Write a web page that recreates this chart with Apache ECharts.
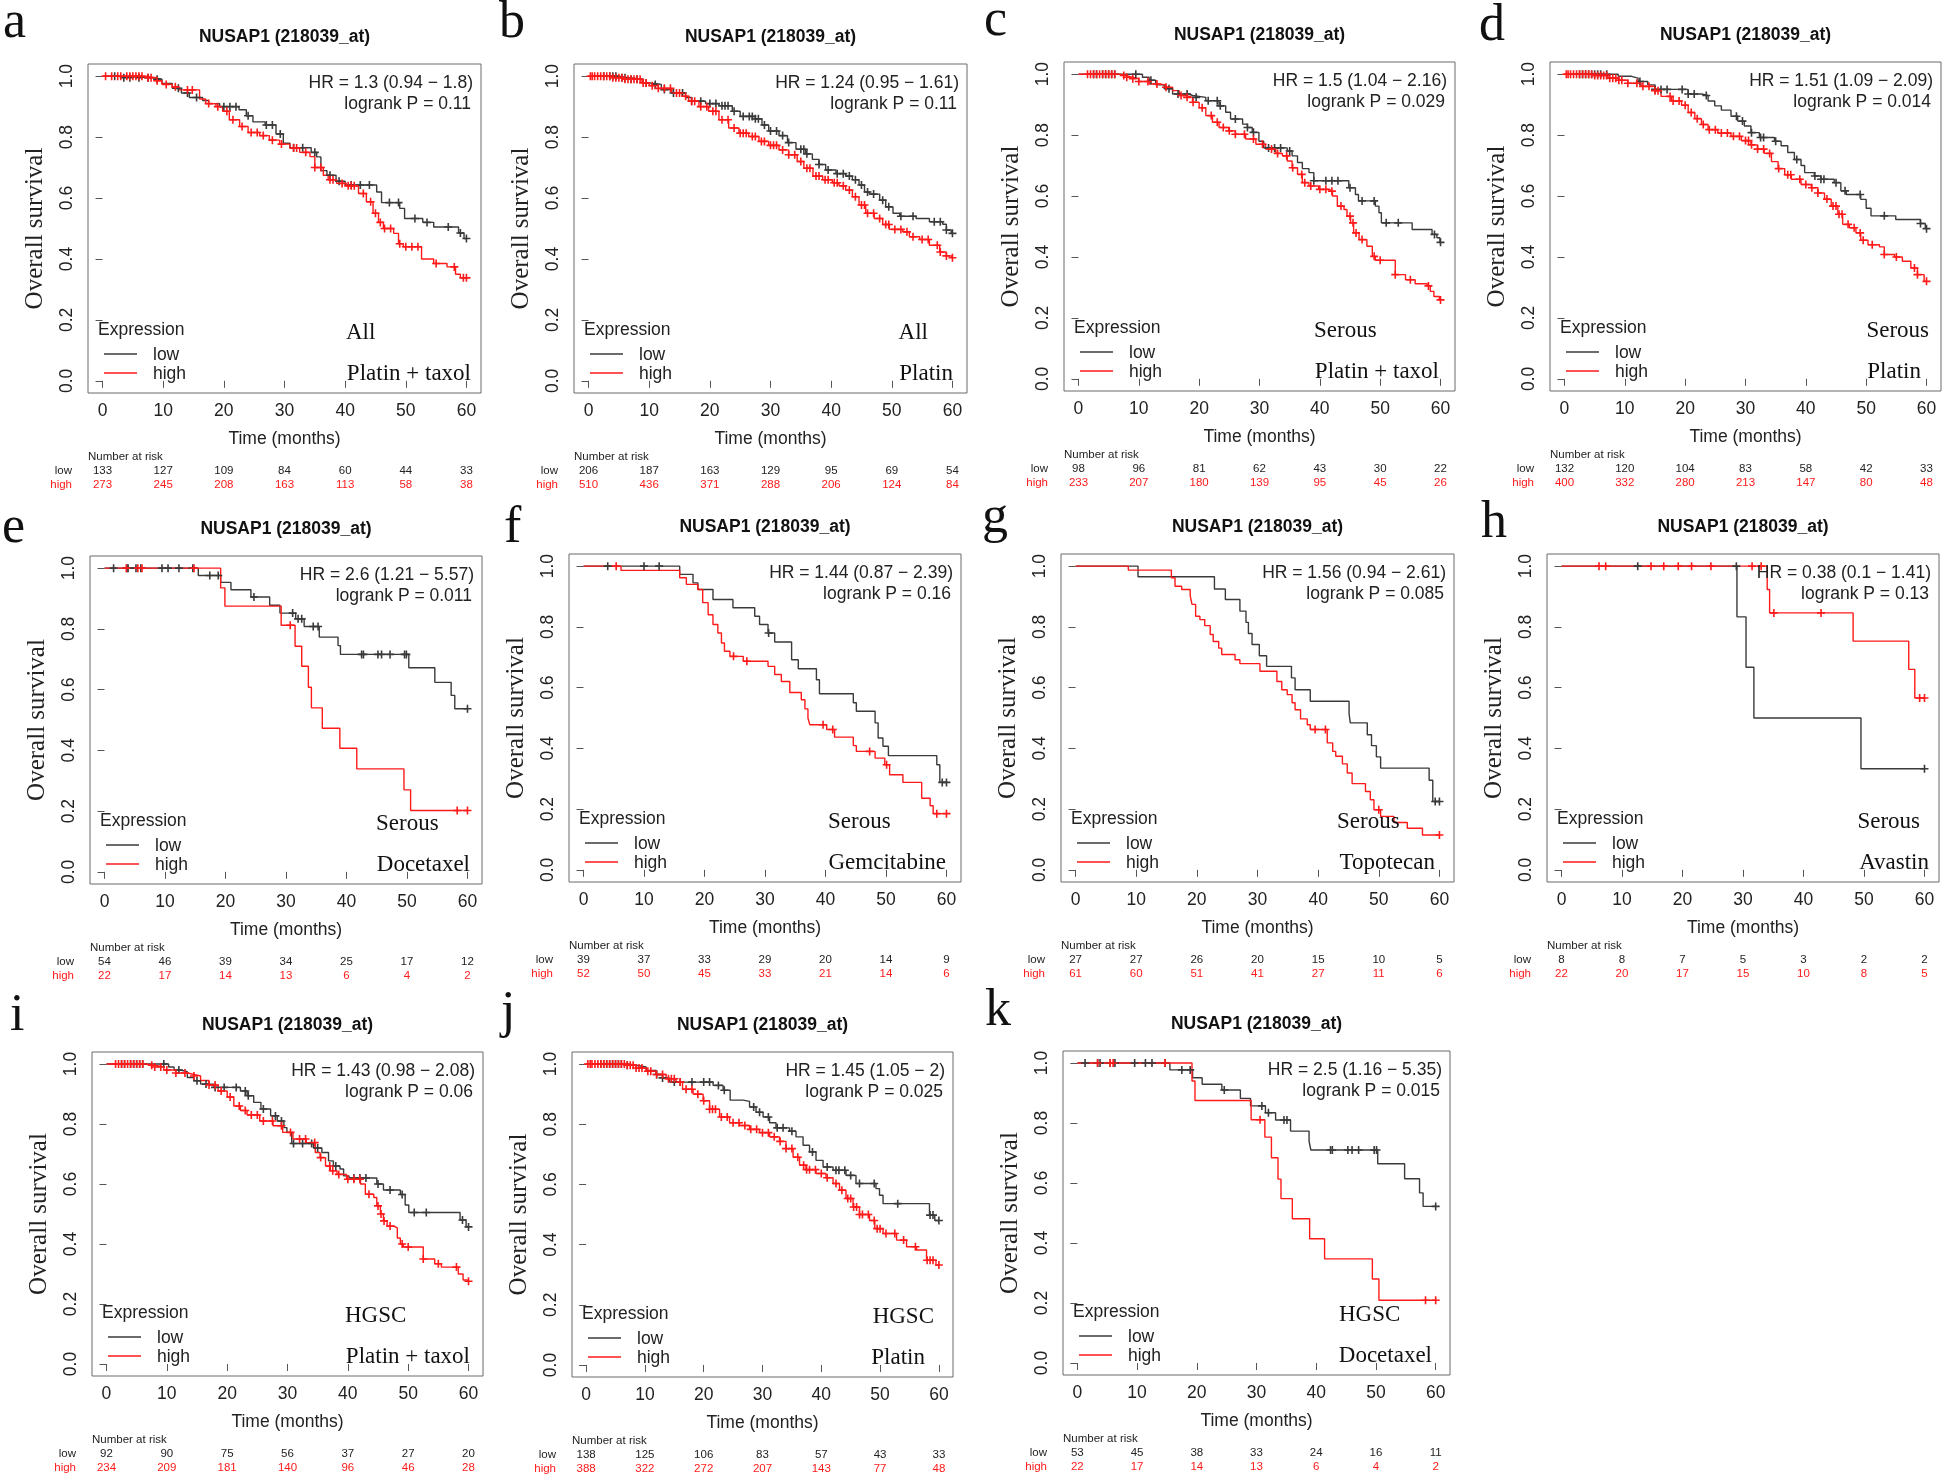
<!DOCTYPE html>
<html><head><meta charset="utf-8">
<script src="https://cdn.jsdelivr.net/npm/echarts@6/dist/echarts.min.js"></script>
<style>html,body{margin:0;padding:0;background:#fff}#c{width:1944px;height:1477px}</style>
</head><body><div id="c"></div>
<script>
// ---------------- DATA ----------------
const TICKS_X = [0,10,20,30,40,50,60];
const TICKS_Y = [0,0.2,0.4,0.6,0.8,1];
const TITLE = 'NUSAP1 (218039_at)';
const panelIds = ['a','b','c','d','e','f','g','h','i','j','k'];
const hrTexts = ['HR = 1.3 (0.94 − 1.8)','HR = 1.24 (0.95 − 1.61)','HR = 1.5 (1.04 − 2.16)','HR = 1.51 (1.09 − 2.09)','HR = 2.6 (1.21 − 5.57)','HR = 1.44 (0.87 − 2.39)','HR = 1.56 (0.94 − 2.61)','HR = 0.38 (0.1 − 1.41)','HR = 1.43 (0.98 − 2.08)','HR = 1.45 (1.05 − 2)','HR = 2.5 (1.16 − 5.35)'];
const pTexts = ['logrank P = 0.11','logrank P = 0.11','logrank P = 0.029','logrank P = 0.014','logrank P = 0.011','logrank P = 0.16','logrank P = 0.085','logrank P = 0.13','logrank P = 0.06','logrank P = 0.025','logrank P = 0.015'];
const subtypes = ['All','All','Serous','Serous','Serous','Serous','Serous','Serous','HGSC','HGSC','HGSC'];
const drugs = ['Platin + taxol','Platin','Platin + taxol','Platin','Docetaxel','Gemcitabine','Topotecan','Avastin','Platin + taxol','Platin','Docetaxel'];
const riskLow = [[133,127,109,84,60,44,33],[206,187,163,129,95,69,54],[98,96,81,62,43,30,22],[132,120,104,83,58,42,33],[54,46,39,34,25,17,12],[39,37,33,29,20,14,9],[27,27,26,20,15,10,5],[8,8,7,5,3,2,2],[92,90,75,56,37,27,20],[138,125,106,83,57,43,33],[53,45,38,33,24,16,11]];
const riskHigh = [[273,245,208,163,113,58,38],[510,436,371,288,206,124,84],[233,207,180,139,95,45,26],[400,332,280,213,147,80,48],[22,17,14,13,6,4,2],[52,50,45,33,21,14,6],[61,60,51,41,27,11,6],[22,20,17,15,10,8,5],[234,209,181,140,96,46,28],[388,322,272,207,143,77,48],[22,17,14,13,6,4,2]];

const aLow = [[0,1],[3,0.995],[8.5,0.99],[9.8,0.976],[11.5,0.96],[13,0.945],[14.3,0.93],[16.5,0.92],[17.5,0.91],[19.3,0.9],[22.5,0.89],[23.7,0.87],[24.8,0.85],[26.8,0.84],[28.6,0.81],[29.8,0.78],[30.9,0.765],[34.4,0.75],[35.3,0.735],[36,0.69],[37,0.675],[38.5,0.655],[40,0.643],[45.2,0.62],[46,0.585],[49,0.566],[49.8,0.533],[52.8,0.52],[54.6,0.505],[58.7,0.485],[59.6,0.467],[60,0.467]];
const aHigh = [[0,1],[7,0.995],[8.8,0.985],[9.8,0.973],[11.5,0.965],[12.6,0.955],[16,0.925],[17,0.91],[18.7,0.9],[19.8,0.885],[20.9,0.857],[22.6,0.835],[24,0.815],[25.9,0.805],[27.5,0.79],[29.2,0.777],[30.9,0.764],[32.5,0.75],[34.2,0.736],[35,0.7],[36.4,0.675],[37.2,0.66],[38.6,0.648],[40.2,0.64],[42.2,0.615],[43.5,0.588],[44.6,0.55],[45.5,0.52],[46.3,0.5],[48,0.484],[48.8,0.45],[49.6,0.44],[52.6,0.4],[54.6,0.385],[56.8,0.374],[58.2,0.35],[59,0.338],[60,0.338]];
const aLowC = [2,3.5,4.5,6,7.5,9,12.5,14,15.5,20,21,22,24,27,28,29.3,31.5,33,35,37.5,39,41,42.5,44,47.3,48.8,51.5,53.5,57,59,60];
const aHighC = [0.5,1.5,2.5,3,4,4.5,5,5.5,6,6.5,7.5,8,9,10.5,12,14,14.8,17.5,19,20.5,21.5,23,24.5,25.5,26.5,28,29.5,31.5,32,33.5,35,36,37.5,38,39.5,40.5,41,41.5,43,44.2,45,45.8,46.5,47.5,49,50,51,52,55,58,59.5,60];

const bLow = [[0,1],[5,0.995],[6.5,0.99],[9,0.978],[10,0.973],[12,0.956],[13.7,0.945],[16,0.93],[17,0.918],[19.3,0.91],[21.5,0.903],[23.7,0.885],[25,0.868],[27.5,0.86],[28.6,0.84],[29.7,0.82],[31.4,0.805],[32.8,0.782],[34.2,0.76],[35.8,0.745],[36.9,0.727],[38,0.71],[39.1,0.692],[40.8,0.68],[42.4,0.672],[43.5,0.66],[44.6,0.643],[45.5,0.62],[46.3,0.613],[48,0.593],[49,0.571],[50.2,0.55],[51.3,0.54],[54,0.533],[56.2,0.522],[58.4,0.514],[59,0.495],[59.8,0.484],[60,0.484]];
const bHigh = [[0,1],[4,0.995],[6,0.99],[8.8,0.978],[10,0.969],[11.5,0.96],[13.7,0.945],[15.4,0.934],[16.5,0.918],[18.2,0.9],[19.8,0.885],[21.5,0.857],[23.1,0.83],[24.8,0.813],[26.4,0.802],[28.1,0.786],[29.7,0.773],[31.4,0.758],[33,0.742],[34.4,0.72],[35.5,0.698],[37,0.672],[38.6,0.66],[40.2,0.65],[41.3,0.64],[42.4,0.626],[43.5,0.604],[44.6,0.577],[45.7,0.55],[47.1,0.533],[48.5,0.513],[49.6,0.497],[51.8,0.489],[52.9,0.473],[54.6,0.464],[56.2,0.445],[57.9,0.423],[59,0.41],[59.8,0.404],[60,0.404]];
const bLowC = [2.5,3.5,4,4.5,5.5,6,7,8,9.5,11,12.5,14,15.5,17,18.5,20,21,22,22.5,23,24,25.5,26.5,27,27.5,28,29,30,31,32,33,35,35.5,36,38,39.5,41,42,43,44,45,46,47,48.5,49.5,51.5,53.5,57,58,59,60];
const bHighC = [0.3,0.6,1,1.5,2,2.5,3,3.5,4,4.5,5,5.5,6,6.5,7,7.5,8,8.5,9,9.5,10.5,11.5,12.5,13.5,14.5,15,16,17,17.5,18.5,19.5,20.5,21,22,23,24,25,25.5,26,27,27.5,28.5,29,30,30.5,31,32,33,34,35,36,36.5,37.5,38,39,39.5,40.5,41,42,43,44,45,45.5,46,47,48,49,49.5,50.5,51.5,52.5,53.5,55,56,57.5,58,59,60];

const cLow = [[0,1],[10.6,0.99],[11.7,0.98],[12.8,0.965],[14.2,0.952],[15.6,0.935],[18.3,0.93],[18.9,0.924],[21.1,0.913],[23.3,0.896],[24.4,0.875],[25.2,0.853],[27.2,0.836],[28,0.825],[28.8,0.809],[29.9,0.78],[30.7,0.758],[34.6,0.748],[35.4,0.732],[36.3,0.71],[37.1,0.69],[38.2,0.677],[39,0.65],[44.8,0.627],[45.9,0.605],[46.4,0.584],[49.2,0.567],[49.8,0.545],[50.2,0.512],[55.3,0.49],[58.6,0.474],[59.4,0.463],[59.9,0.448],[60,0.448]];
const cHigh = [[0,1],[6.7,0.996],[7.8,0.99],[8.9,0.985],[10,0.976],[11.7,0.968],[13.4,0.965],[14.5,0.957],[15.6,0.946],[16.7,0.93],[17.8,0.924],[18.9,0.908],[20,0.89],[21.1,0.864],[22.2,0.842],[23.3,0.825],[24.9,0.814],[26,0.803],[27.7,0.787],[29.4,0.77],[31,0.754],[32.7,0.74],[33.8,0.732],[34.6,0.715],[35.4,0.693],[36.3,0.671],[37.1,0.644],[38.2,0.633],[39.8,0.622],[41.5,0.616],[42.1,0.6],[42.9,0.567],[44,0.556],[44.5,0.534],[45.1,0.512],[45.6,0.479],[46.5,0.457],[47.8,0.435],[48.7,0.402],[49.2,0.389],[52.5,0.342],[54.2,0.325],[55.8,0.312],[57.8,0.305],[58.3,0.287],[58.9,0.27],[59.8,0.259],[60,0.259]];
const cLowC = [2.5,3,4,4.5,5,5.5,6,9.5,12,15,16.5,18,19.5,21.5,23,23.5,26,28,29,31.5,32.5,33.5,35,39,41,42,43,45,47,49,51,53,59,60];
const cHighC = [1.5,2,2.5,3,3.5,4,4.5,5,5.5,6,7.5,8,9,10,11.5,13,14.5,17,18,19,20.5,22,23,24,25,26,27.5,29,30.5,32,33,34.5,35.5,37,37.5,38.5,40,41,42,43.5,45,45.5,46,47,49,50,52.5,55,58,60];

const dLow = [[0,1],[8.9,0.993],[11.1,0.987],[12.2,0.976],[13.8,0.965],[15,0.95],[20.5,0.935],[22.7,0.93],[23.8,0.912],[24.9,0.896],[26,0.882],[27.6,0.862],[28.7,0.846],[29.8,0.83],[30.9,0.808],[32.3,0.792],[34.8,0.78],[35.9,0.765],[37,0.743],[38.1,0.72],[39.2,0.7],[39.8,0.677],[41.4,0.666],[42.5,0.655],[44.7,0.644],[45.8,0.617],[46.7,0.605],[49.1,0.589],[50,0.56],[50.8,0.535],[54.9,0.523],[59,0.51],[59.8,0.493],[60,0.493]];
const dHigh = [[0,1],[5,0.996],[7.2,0.987],[8.9,0.98],[10.5,0.97],[12.7,0.96],[15,0.946],[16,0.927],[17.7,0.912],[19.4,0.898],[20.5,0.874],[21.6,0.854],[22.7,0.835],[23.8,0.818],[25.4,0.807],[27.6,0.796],[29.3,0.782],[30.9,0.768],[32,0.754],[33.1,0.74],[34.3,0.713],[35.4,0.69],[36.5,0.67],[37.6,0.655],[39.2,0.638],[40.9,0.627],[42,0.61],[43.1,0.59],[44.2,0.567],[45.3,0.54],[46.1,0.507],[47.2,0.496],[48.3,0.479],[49.1,0.455],[50.3,0.44],[52.2,0.433],[53,0.408],[54.7,0.4],[56,0.386],[57.4,0.364],[58.5,0.342],[59.6,0.32],[60,0.32]];
const dLowC = [2.5,3,3.5,4,4.5,5,5.5,6,7,12.5,15,16,17,19.5,20.5,21.5,23.5,28.5,29.5,31,32.5,33,35,38.5,41.5,42.5,43,45,46.5,49,53,59,60];
const dHighC = [0.3,0.6,1,1.5,2,2.5,3,3.5,4,4.5,5,5.5,6,6.5,7,7.5,8,8.5,9,9.5,10.5,12,13,14,15,15.5,17.5,18,19,20,21,22,23,24,25,26,27,28,29,30,30.5,31,32,33,34,35.5,37,37.5,39,40,41,42,43.5,44.5,45,45.5,46,47,48,49,49.5,51,53,55,58,58.5,60];

const eLow = [[0,1],[15.5,0.976],[19.2,0.953],[20.9,0.929],[24.2,0.905],[27.3,0.878],[29,0.852],[31.6,0.833],[33,0.808],[35.5,0.773],[38.6,0.745],[39,0.716],[50.3,0.672],[54.6,0.624],[57.3,0.581],[57.9,0.537],[60,0.537]];
const eHigh = [[0,1],[19.2,0.935],[19.9,0.875],[29.2,0.812],[31.5,0.743],[32.6,0.677],[33.7,0.608],[34.2,0.54],[36,0.473],[38.9,0.407],[41.7,0.339],[49.5,0.27],[50.6,0.202],[60,0.202]];
const eLowC = [1.5,3.7,3.9,5.2,6,9.5,10.5,12.3,14.6,17.4,18.8,24.7,31.1,32,32.6,34.5,35.3,42.5,42.8,45.2,45.8,47.2,49.6,49.9,60];
const eHighC = [3.6,5.5,6.2,14.8,30.7,58.3,60];

const fLow = [[0,1],[15.9,0.973],[18.1,0.945],[18.9,0.923],[21.4,0.89],[24.7,0.863],[28.3,0.835],[29.1,0.808],[30.5,0.78],[31.6,0.75],[34.4,0.692],[35.5,0.662],[38.5,0.626],[39,0.58],[44.6,0.55],[45.1,0.522],[48.2,0.484],[48.7,0.434],[49.5,0.407],[50.4,0.376],[58.4,0.346],[58.9,0.288],[60,0.288]];
const fHigh = [[0,1],[6.2,0.986],[15.9,0.962],[17,0.94],[18.9,0.923],[19.7,0.88],[20.6,0.84],[21.4,0.808],[22.2,0.78],[22.8,0.747],[23.3,0.72],[24.2,0.703],[26.4,0.687],[30.5,0.67],[31.6,0.643],[32.7,0.62],[34.1,0.584],[36,0.56],[36.6,0.53],[37.1,0.5],[37.4,0.478],[40.2,0.462],[41.5,0.437],[44.6,0.409],[45.1,0.39],[48.2,0.368],[49.8,0.346],[50.6,0.313],[52.8,0.288],[55.9,0.236],[57.3,0.211],[57.8,0.185],[60,0.185]];
const fLowC = [4,10,12.5,30.6,59.3,60];
const fHighC = [5.4,24.8,27,39.6,41.2,47.3,50.1,58.4,60];

const gLow = [[0,1],[10.3,0.965],[22.9,0.925],[24.7,0.89],[27.1,0.852],[28.1,0.815],[28.5,0.778],[29.1,0.742],[30.3,0.705],[31.5,0.67],[35.6,0.632],[36.2,0.593],[38.7,0.555],[45.1,0.514],[45.3,0.484],[48.1,0.445],[48.8,0.409],[49.6,0.372],[50.3,0.335],[58.3,0.295],[58.9,0.225],[60,0.225]];
const gHigh = [[0,1],[8.7,0.987],[15.8,0.962],[16.4,0.934],[17.5,0.923],[18.9,0.903],[19.2,0.874],[19.8,0.835],[20.5,0.824],[21.3,0.804],[22.2,0.775],[22.7,0.752],[23.6,0.73],[24.1,0.709],[26.3,0.692],[27.1,0.679],[30.4,0.654],[33.2,0.62],[34,0.593],[34.9,0.577],[35.7,0.55],[36.2,0.527],[37.1,0.497],[38.2,0.478],[38.7,0.462],[41.5,0.418],[42.4,0.39],[42.9,0.374],[44,0.349],[44.8,0.319],[45.6,0.284],[47.8,0.258],[48.6,0.231],[49.2,0.198],[50.3,0.176],[52.5,0.156],[54.7,0.137],[57.2,0.115],[60,0.115]];
const gLowC = [59.3,60];
const gHighC = [39.5,41.2,50,60];

const hLow = [[0,1],[29,0.833],[30.5,0.667],[31.8,0.5],[49.5,0.333],[60,0.333]];
const hHigh = [[0,1],[34,0.923],[34.4,0.846],[48.2,0.753],[57.4,0.66],[58.4,0.566],[60,0.566]];
const hLowC = [12.6,28.9,60];
const hHighC = [6.2,7.3,14.8,16.9,19.3,21.5,24.7,31.5,33,35.1,42.9,59.2,60];

const iLow = [[0,1],[10.3,0.99],[11.2,0.98],[12.3,0.974],[13.4,0.955],[14.5,0.944],[15.6,0.933],[17.8,0.922],[22.2,0.91],[23.3,0.894],[24.4,0.872],[25.6,0.85],[27.2,0.827],[28.3,0.81],[29.4,0.788],[29.9,0.772],[30.7,0.735],[34.3,0.72],[35.7,0.705],[36.8,0.677],[37.6,0.66],[38.7,0.65],[39.3,0.627],[40.2,0.62],[44.8,0.6],[45.9,0.58],[48.7,0.565],[49.5,0.53],[50.1,0.505],[58.6,0.48],[59.6,0.457],[60,0.457]];
const iHigh = [[0,1],[6.5,0.996],[8,0.99],[9.5,0.98],[11.5,0.97],[13.5,0.965],[14.5,0.96],[15.6,0.945],[17,0.93],[18.5,0.91],[20,0.89],[21.1,0.86],[22.2,0.845],[23.3,0.83],[25.4,0.81],[27.6,0.794],[29.2,0.772],[30.9,0.75],[33.1,0.738],[34.6,0.705],[35.4,0.688],[36.3,0.66],[37.1,0.644],[38.2,0.632],[39.8,0.616],[42.1,0.6],[42.9,0.566],[44.3,0.555],[44.8,0.527],[45.4,0.5],[45.9,0.477],[46.5,0.46],[47.6,0.454],[48.2,0.42],[48.7,0.4],[49.2,0.39],[52.5,0.35],[54.4,0.334],[55.5,0.323],[58.3,0.3],[59.1,0.28],[59.8,0.276],[60,0.276]];
const iLowC = [2.5,3,4,4.5,5,5.5,6,9.5,12,15,16.5,18,19.5,21.5,23,23.5,26,28,29,31,32.5,34,35,38,41,42,43,45,47,49,51,53,59,60];
const iHighC = [1.5,2,2.5,3,3.5,4,4.5,5,5.5,6,7.5,8,9,10,11.5,13,14.5,17,18,19,20.5,22,23,24,25,26,27.5,29,30.5,32,33,34.5,35.5,37,37.5,38.5,40,41,42,43.5,45,45.5,46,47,49,50,52.5,55,58,60];

const jLow = [[0,1],[7,0.996],[8.5,0.99],[10.2,0.979],[11.9,0.965],[13,0.954],[14.2,0.94],[21.6,0.929],[23.3,0.913],[24.5,0.88],[26.7,0.876],[27.8,0.857],[28.9,0.84],[30.1,0.824],[31.2,0.805],[32.3,0.788],[34.6,0.777],[35.7,0.758],[36.9,0.73],[38,0.708],[39.1,0.68],[40.3,0.658],[42,0.647],[44.2,0.63],[45.9,0.603],[49.3,0.586],[49.9,0.564],[50.5,0.536],[58.4,0.498],[59.3,0.48],[60,0.48]];
const jHigh = [[0,1],[6.8,0.996],[8.5,0.987],[10.2,0.976],[11.9,0.965],[13.6,0.951],[15.3,0.94],[16.4,0.916],[18.2,0.9],[19.9,0.878],[21,0.85],[22.7,0.824],[24.4,0.805],[26.1,0.796],[27.8,0.783],[29.5,0.772],[31.2,0.758],[32.9,0.743],[34,0.719],[35.2,0.69],[36.3,0.664],[37.4,0.649],[39.1,0.636],[40.8,0.622],[42,0.603],[43.1,0.581],[44.2,0.553],[45.4,0.525],[46.5,0.5],[48.2,0.48],[49.1,0.453],[50.5,0.437],[52.8,0.415],[54.5,0.393],[56.2,0.382],[57.9,0.348],[59.5,0.332],[60,0.332]];
const jLowC = [2.5,3,3.5,4,4.5,5,5.5,6,7,12,13,15,16,18,20,21,22.5,23.5,28.5,29.5,31,32.5,33.5,35,38.5,41,42.5,43,44,45,46.5,49,53,58.5,59,60];
const jHighC = [0.3,0.7,1,1.5,2,2.5,3,3.5,4,4.5,5,5.5,6,6.5,7,7.5,8,8.5,9,9.5,10.5,11,12,13,14,14.5,15,16,17,18,19,20,21,21.5,22,23,24,25,26,27,28,29,30,31,32,33,34,35,36,37,37.5,38,39,40,41,42.5,43.5,44.5,45,45.5,46,46.5,47,48,49,49.5,50,51,52.5,54,56,58,58.5,59,60];

const kLow = [[0,1],[15.5,0.977],[19.3,0.951],[20.9,0.929],[24.2,0.91],[27.3,0.882],[29,0.857],[31.5,0.834],[33.2,0.81],[35.7,0.773],[38.8,0.74],[39.1,0.71],[50.3,0.664],[54.8,0.614],[57.3,0.567],[57.9,0.522],[60,0.522]];
const kHigh = [[0,1],[19.2,0.94],[19.7,0.875],[29.1,0.811],[31.4,0.753],[32.5,0.684],[33.6,0.613],[34.1,0.548],[36,0.481],[38.9,0.414],[41.4,0.347],[49.4,0.28],[50.5,0.209],[60,0.209]];
const kLowC = [1.3,3.4,3.8,5.5,6.3,9.6,11.4,12.5,14.7,17.5,18.9,24.6,30.9,32,34.6,35.1,42.4,42.7,45.3,46,47.1,49.7,50.1,60];
const kHighC = [3.4,5.5,6,14.7,30.6,58.3,60];

const lowCurves = [aLow,bLow,cLow,dLow,eLow,fLow,gLow,hLow,iLow,jLow,kLow];
const highCurves = [aHigh,bHigh,cHigh,dHigh,eHigh,fHigh,gHigh,hHigh,iHigh,jHigh,kHigh];
const lowCens = [aLowC,bLowC,cLowC,dLowC,eLowC,fLowC,gLowC,hLowC,iLowC,jLowC,kLowC];
const highCens = [aHighC,bHighC,cHighC,dHighC,eHighC,fHighC,gHighC,hHighC,iHighC,jHighC,kHighC];

// ---------------- LAYOUT (positions, separate from data) ----------------
const BOXES = [[88,64,481,393],[574,64,967,393],[1064,62,1455,391],[1550,62,1941,391],
  [90,556,482,884],[569,554,961,882],[1061,554,1454,882],[1547,554,1939,882],
  [92,1052,483,1376],[572,1052,953,1377],[1063,1051,1450,1375]];
const LETTERS = [[3,40],[499,40],[984,38],[1479,43],[2,545],[504,545],[982,535],[1481,540],[10,1033],[501,1030],[985,1028]];
const SUBPOS = [[346,'left'],[928,'right'],[1314,'left'],[1929,'right'],[376,'left'],[828,'left'],[1337,'left'],[1920,'right'],[345,'left'],[934,'right'],[1339,'left']];
const DRUGPOS = [471,953,1439,1921,470,946,1435,1929,470,925,1432];

const SANS = '"Liberation Sans", Arial, Helvetica, sans-serif';
const SERIF = '"Liberation Serif", "Times New Roman", serif';
const DARK = '#3a3a3a';
const RED = '#ff1a1a';
const PLUS = 'path://M4,0L6,0L6,4L10,4L10,6L6,6L6,10L4,10L4,6L0,6L0,4L4,4Z';

function censorPts(steps, times){
  return times.map(t => { let s = steps[0][1]; for (const p of steps){ if (p[0] <= t) s = p[1]; else break; } return [t, s]; });
}
function tx(x, y, s, font, align, fill){
  return {type:'text', x:x, y:y, silent:true, z:10,
    style:{text:s, font:font, fill:fill||'#222', align:align||'left', verticalAlign:'middle'}};
}
function ln(x1,y,x2,col){
  return {type:'line', silent:true, z:10, shape:{x1:x1,y1:y,x2:x2,y2:y}, style:{stroke:col, lineWidth:1.4}};
}
function riskAxis(g, off, vals, label, col){
  return {gridIndex:g, type:'value', min:-2.4, max:62.4, position:'bottom', offset:off,
    axisLine:{show:false}, axisTick:{show:false}, splitLine:{show:false},
    axisLabel:{customValues:TICKS_X, margin:0, fontSize:11.5, color:col, fontFamily:SANS,
      formatter: v => String(vals[Math.round(v/10)])},
    name:label, nameLocation:'start', nameGap:16,
    nameTextStyle:{fontSize:11.5, color:col, fontFamily:SANS, verticalAlign:'top'}};
}

const grids=[], xAxes=[], yAxes=[], series=[], gfx=[];
panelIds.forEach((id, i) => {
  const [L,T,R,B] = BOXES[i];
  grids.push({left:L, top:T, width:R-L, height:B-T, show:true, borderColor:'#6a6a6a', borderWidth:1, backgroundColor:'transparent', containLabel:false});
  const xi = xAxes.length;
  xAxes.push({gridIndex:i, type:'value', min:-2.4, max:62.4, axisLine:{show:false}, splitLine:{show:false},
    axisTick:{show:true, customValues:TICKS_X, length:7, lineStyle:{color:'#555'}},
    axisLabel:{customValues:TICKS_X, margin:9, fontSize:17.5, color:'#222', fontFamily:SANS},
    name:'Time (months)', nameLocation:'middle', nameGap:37.5,
    nameTextStyle:{fontSize:17.5, color:'#222', fontFamily:SANS}});
  xAxes.push(riskAxis(i, 72, riskLow[i], 'low', '#222'));
  xAxes.push(riskAxis(i, 86, riskHigh[i], 'high', RED));
  yAxes.push({gridIndex:i, type:'value', min:-0.04, max:1.04, axisLine:{show:false}, splitLine:{show:false},
    axisTick:{show:true, customValues:TICKS_Y, length:7, lineStyle:{color:'#555'}},
    axisLabel:{customValues:TICKS_Y, rotate:90, margin:12, fontSize:17.5, color:'#222', fontFamily:SANS,
      formatter: v => v.toFixed(1)},
    name:'Overall survival', nameLocation:'middle', nameGap:40,
    nameTextStyle:{fontSize:25, color:'#222', fontFamily:SERIF}});
  [[lowCurves[i], lowCens[i], DARK],[highCurves[i], highCens[i], RED]].forEach(([crv, cens, col]) => {
    series.push({type:'line', step:'end', xAxisIndex:xi, yAxisIndex:i, data:crv, symbol:'none', showSymbol:false,
      silent:true, lineStyle:{width:1.4, color:col}, z:3});
    series.push({type:'scatter', xAxisIndex:xi, yAxisIndex:i, data:censorPts(crv, cens), symbol:PLUS, symbolSize:8,
      silent:true, itemStyle:{color:col, opacity:1}, z:4});
  });
  gfx.push(tx(LETTERS[i][0], LETTERS[i][1]-17, id, '52px '+SERIF, 'left', '#111'));
  gfx.push(tx((L+R)/2, T-27, TITLE, 'bold 17.5px '+SANS, 'center', '#111'));
  gfx.push(tx(R-8, T+19, hrTexts[i], '17.5px '+SANS, 'right'));
  gfx.push(tx(R-10, T+40, pTexts[i], '17.5px '+SANS, 'right'));
  gfx.push(tx(L+10, B-63, 'Expression', '17.5px '+SANS, 'left'));
  gfx.push(ln(L+16, B-39, L+49, DARK));
  gfx.push(ln(L+16, B-20, L+49, RED));
  gfx.push(tx(L+65, B-38, 'low', '17.5px '+SANS, 'left'));
  gfx.push(tx(L+65, B-19, 'high', '17.5px '+SANS, 'left'));
  gfx.push(tx(SUBPOS[i][0], B-60, subtypes[i], '23px '+SERIF, SUBPOS[i][1], '#111'));
  gfx.push(tx(DRUGPOS[i], B-19, drugs[i], '23px '+SERIF, 'right', '#111'));
  gfx.push(tx(L, B+64, 'Number at risk', '11.5px '+SANS, 'left'));
});

const chart = echarts.init(document.getElementById('c'), null, {renderer:'canvas'});
chart.setOption({
  backgroundColor:'#fff', animation:false,
  grid:grids, xAxis:xAxes, yAxis:yAxes, series:series,
  graphic:{elements:gfx}
});
</script></body></html>
